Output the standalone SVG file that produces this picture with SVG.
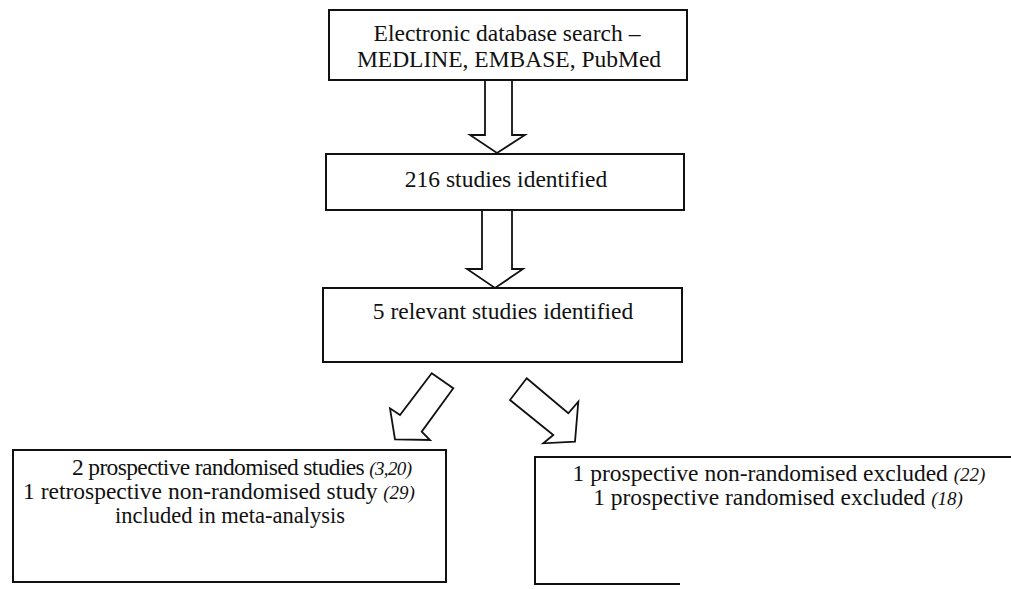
<svg xmlns="http://www.w3.org/2000/svg" width="1011" height="589" viewBox="0 0 1011 589">
<style>
.box{fill:none;stroke:#111;stroke-width:2}
.arr{fill:#fff;stroke:#111;stroke-width:1.8;stroke-linejoin:miter}
text{font-family:"Liberation Serif","Times New Roman",serif;font-size:23.5px;fill:#111;text-anchor:middle}
.ref{font-style:italic;font-size:19px}
</style>
<rect width="1011" height="589" fill="#fff"/>
<g id="connectors">
<polygon class="arr" points="485,80 485,135 470,135 497,153 525,135 512,135 512,80"/>
<polygon class="arr" points="482,210 482,269 467,269 495,288 523,269 512,269 512,210"/>
<polygon class="arr" points="431.7,373.3 400,415 390,408.3 395,439.3 430,440 421.7,431.7 453.3,388.3"/>
<polygon class="arr" points="526.7,378.3 568.3,413.3 578.3,401.7 575,441.7 543.3,443.3 553.3,435 510,400"/>
</g>
<g id="search">
<rect class="box" x="329" y="10" width="358" height="70"/>
<text x="507" y="41">Electronic database search –</text>
<text x="509" y="67">MEDLINE, EMBASE, PubMed</text>
</g>
<g id="identified">
<rect class="box" x="326" y="154" width="358" height="56"/>
<text x="506" y="187">216 studies identified</text>
</g>
<g id="relevant">
<rect class="box" x="323" y="288" width="359" height="74"/>
<text x="503" y="319">5 relevant studies identified</text>
</g>
<g id="included">
<rect class="box" x="13" y="450" width="433" height="132"/>
<text x="72" y="475" style="text-anchor:start" textLength="340">2 prospective randomised studies <tspan class="ref">(3,20)</tspan></text>
<text x="219" y="499">1 retrospective non-randomised study <tspan class="ref">(29)</tspan></text>
<text x="230" y="523" style="font-size:22.5px">included in meta-analysis</text>
</g>
<g id="excluded">
<path class="box" d="M1011,457 H535 V584 H680"/>
<text x="779" y="481">1 prospective non-randomised excluded <tspan class="ref">(22)</tspan></text>
<text x="778" y="505">1 prospective randomised excluded <tspan class="ref">(18)</tspan></text>
</g>
</svg>
